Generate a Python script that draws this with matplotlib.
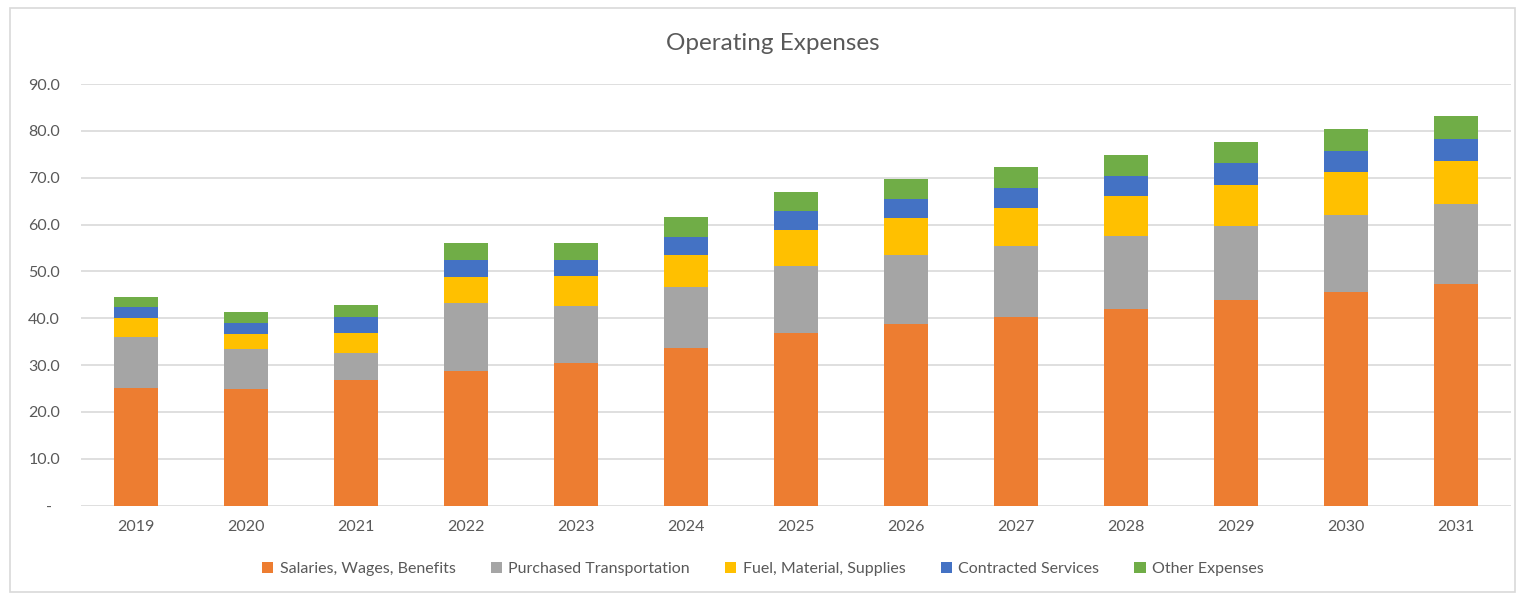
import numpy as np
import matplotlib.pyplot as plt
from matplotlib.patches import Rectangle

# Operating expenses by category
years = ["2019", "2020", "2021", "2022", "2023", "2024", "2025",
         "2026", "2027", "2028", "2029", "2030", "2031"]

salaries = [25.2, 24.9, 26.8, 28.7, 30.5, 33.7, 36.9, 38.8, 40.2, 42.0, 43.8, 45.6, 47.3]
purchased = [10.7, 8.5, 5.7, 14.5, 12.2, 12.9, 14.3, 14.6, 15.3, 15.6, 16.0, 16.4, 17.1]
fuel = [4.1, 3.3, 4.4, 5.6, 6.4, 6.8, 7.6, 7.9, 8.0, 8.4, 8.7, 9.2, 9.2]
contracted = [2.4, 2.3, 3.3, 3.6, 3.3, 4.0, 4.1, 4.1, 4.4, 4.4, 4.6, 4.6, 4.6]
other = [2.1, 2.3, 2.7, 3.6, 3.7, 4.2, 4.1, 4.3, 4.3, 4.5, 4.5, 4.7, 5.0]

series = [
    ("Salaries, Wages, Benefits", salaries, "#ED7D31"),
    ("Purchased Transportation", purchased, "#A5A5A5"),
    ("Fuel, Material, Supplies", fuel, "#FFC000"),
    ("Contracted Services", contracted, "#4472C4"),
    ("Other Expenses", other, "#70AD47"),
]

yticks = np.arange(0, 91, 10)

plt.rcParams["font.family"] = ["Lato", "DejaVu Sans"]
text_color = "#595959"

fig = plt.figure(figsize=(15.24, 5.97), dpi=100)
ax = fig.add_axes([81 / 1524, 1 - 505.7 / 597, (1511 - 81) / 1524, (505.7 - 84) / 597])

x = np.arange(len(years))
bottom = np.zeros(len(years))
for label, vals, color in series:
    ax.bar(x, vals, width=0.395, bottom=bottom, color=color, label=label, zorder=3)
    bottom += np.array(vals)

ax.set_xlim(-0.5, len(years) - 0.5)
ax.set_ylim(0, 90)
ax.set_yticks(yticks)
ax.set_yticklabels(["-  " if t == 0 else f"{t:.1f}" for t in yticks])
ax.set_xticks(x)
ax.set_xticklabels(years)

ax.grid(axis="y", color="#D9D9D9", linewidth=1.2, zorder=0)
for s in ax.spines.values():
    s.set_visible(False)
ax.tick_params(axis="both", length=0, colors=text_color, labelsize=11.5)
ax.tick_params(axis="y", pad=15)
ax.tick_params(axis="x", pad=10)

fig.text(773 / 1524, 1 - 44 / 597, "Operating Expenses", ha="center", va="center",
         fontsize=17.5, color=text_color)

# Excel centres the legend on the chart area, not the plot area
fig.legend(*ax.get_legend_handles_labels(), loc="center",
           bbox_to_anchor=(763 / 1524, 1 - 569 / 597), ncol=5,
           frameon=False, fontsize=11.5, handlelength=0.7, handleheight=0.7,
           columnspacing=2.2, handletextpad=0.4, labelcolor=text_color)

# light chart-area border
fig.patches.append(Rectangle((10 / 1524, 1 - 592 / 597), 1505 / 1524, 584 / 597,
                             transform=fig.transFigure, fill=False,
                             edgecolor="#D9D9D9", linewidth=1.2))

fig.savefig("out.png", dpi=100, facecolor="white")
